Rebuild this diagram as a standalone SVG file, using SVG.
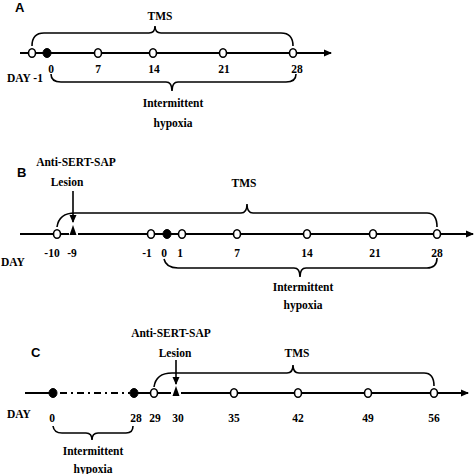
<svg xmlns="http://www.w3.org/2000/svg" width="474" height="474" viewBox="0 0 474 474">
<defs>
<style>
.ax{stroke:#000;stroke-width:2;fill:none}
.br{stroke:#000;stroke-width:1.6;fill:none}
.o{fill:#fff;stroke:#000;stroke-width:1.6}
.f{fill:#000;stroke:#000;stroke-width:1}
.t{font-family:'Liberation Serif','DejaVu Serif',serif;font-weight:bold;font-size:11.5px;fill:#000;text-anchor:middle}
.ts{font-family:'Liberation Serif','DejaVu Serif',serif;font-weight:bold;font-size:11.5px;fill:#000}
.p{font-family:'Liberation Sans',Arial,sans-serif;font-weight:bold;font-size:13px;fill:#000}
</style>
<marker id="ah" markerWidth="8" markerHeight="8" refX="7" refY="4" orient="auto" markerUnits="userSpaceOnUse">
<path d="M0,0.5 L8,4 L0,7.5 Z" fill="#000"/>
</marker>
</defs>

<g id="panelA">
<text class="p" x="15" y="12">A</text>
<g id="connectorsA">
<line class="ax" x1="20" y1="53" x2="331" y2="53" marker-end="url(#ah)"/>
<path class="br" d="M32,46 Q32,33 44,33 H149 Q155,33 155,26 Q155,33 161,33 H281 Q293,33 293,46"/>
<path class="br" d="M51,74 Q51,82 61,82 H166 Q172,82 172,91 Q172,82 178,82 H286 Q296,82 296,74"/>
</g>
<g id="markersA">
<ellipse class="o" cx="32" cy="53" rx="3.5" ry="4.3"/>
<ellipse class="f" cx="47" cy="53" rx="4" ry="4.5"/>
<ellipse class="o" cx="98" cy="53" rx="3.5" ry="4.3"/>
<ellipse class="o" cx="153" cy="53" rx="3.5" ry="4.3"/>
<ellipse class="o" cx="223" cy="53" rx="3.5" ry="4.3"/>
<ellipse class="o" cx="293" cy="53" rx="3.5" ry="4.3"/>
</g>
<text class="t" x="160" y="20">TMS</text>
<text class="ts" x="7" y="82">DAY -1</text>
<text class="t" x="51" y="73">0</text>
<text class="t" x="98" y="73">7</text>
<text class="t" x="154" y="73">14</text>
<text class="t" x="224" y="73">21</text>
<text class="t" x="297" y="73">28</text>
<text class="t" x="173" y="107">Intermittent</text>
<text class="t" x="173" y="127">hypoxia</text>
</g>

<g id="panelB">
<text class="p" x="17" y="177">B</text>
<g id="connectorsB">
<line class="ax" x1="20" y1="234" x2="69" y2="234"/>
<line class="ax" x1="78" y1="234" x2="473" y2="234" marker-end="url(#ah)"/>
<line class="br" x1="73" y1="191" x2="73" y2="222" marker-end="url(#ah)"/>
<path class="br" d="M57,227 Q59,213 75,213 H241 Q247,213 247,204 Q247,213 253,213 H427 Q437,213 437,227"/>
<path class="br" d="M164,259 Q166,268 178,268 H294 Q300,268 300,277 Q300,268 306,268 H427 Q437,268 437,258"/>
</g>
<g id="markersB">
<ellipse class="o" cx="57" cy="234" rx="3.5" ry="4.3"/>
<polygon points="73,225 69.5,235 76.5,235" fill="#000"/>
<ellipse class="o" cx="151" cy="234" rx="3.5" ry="4.3"/>
<ellipse class="f" cx="167" cy="234" rx="4" ry="4.5"/>
<ellipse class="o" cx="182" cy="234" rx="3.5" ry="4.3"/>
<ellipse class="o" cx="237" cy="234" rx="3.5" ry="4.3"/>
<ellipse class="o" cx="307" cy="234" rx="3.5" ry="4.3"/>
<ellipse class="o" cx="373" cy="234" rx="3.5" ry="4.3"/>
<ellipse class="o" cx="437" cy="234" rx="3.5" ry="4.3"/>
</g>
<text class="t" x="76" y="166">Anti-SERT-SAP</text>
<text class="t" x="67" y="186">Lesion</text>
<text class="t" x="244" y="187">TMS</text>
<text class="ts" x="1" y="266">DAY</text>
<text class="t" x="52" y="257">-10</text>
<text class="t" x="72" y="257">-9</text>
<text class="t" x="147" y="257">-1</text>
<text class="t" x="164" y="257">0</text>
<text class="t" x="180" y="257">1</text>
<text class="t" x="237" y="257">7</text>
<text class="t" x="307" y="257">14</text>
<text class="t" x="375" y="257">21</text>
<text class="t" x="437" y="257">28</text>
<text class="t" x="303" y="291">Intermittent</text>
<text class="t" x="303" y="309">hypoxia</text>
</g>

<g id="panelC">
<text class="p" x="31" y="357">C</text>
<g id="connectorsC">
<line class="ax" x1="25" y1="393" x2="53" y2="393"/>
<line class="ax" x1="60" y1="393" x2="130" y2="393" stroke-dasharray="7 4 2 4"/>
<line class="ax" x1="134" y1="393" x2="171" y2="393"/>
<line class="ax" x1="181" y1="393" x2="468" y2="393" marker-end="url(#ah)"/>
<line class="br" x1="176" y1="360" x2="176" y2="384" marker-end="url(#ah)"/>
<path class="br" d="M154,387 Q156,373 172,373 H287 Q293,373 293,365 Q293,373 299,373 H424 Q434,373 434,386"/>
<path class="br" d="M53,426 Q54,433 62,433 H86 Q92,433 92,440 Q92,433 98,433 H126 Q133,433 133,426"/>
</g>
<g id="markersC">
<ellipse class="f" cx="53" cy="393" rx="4" ry="4.5"/>
<ellipse class="f" cx="134" cy="393" rx="4" ry="4.5"/>
<ellipse class="o" cx="154" cy="393" rx="3.5" ry="4.3"/>
<polygon points="176,386 172.5,396 179.5,396" fill="#000"/>
<ellipse class="o" cx="234" cy="393" rx="3.5" ry="4.3"/>
<ellipse class="o" cx="298" cy="393" rx="3.5" ry="4.3"/>
<ellipse class="o" cx="368" cy="393" rx="3.5" ry="4.3"/>
<ellipse class="o" cx="434" cy="393" rx="3.5" ry="4.3"/>
</g>
<text class="t" x="171" y="337">Anti-SERT-SAP</text>
<text class="t" x="175" y="357">Lesion</text>
<text class="t" x="297" y="357">TMS</text>
<text class="ts" x="7" y="418">DAY</text>
<text class="t" x="52" y="422">0</text>
<text class="t" x="136" y="422">28</text>
<text class="t" x="155" y="422">29</text>
<text class="t" x="178" y="422">30</text>
<text class="t" x="234" y="422">35</text>
<text class="t" x="298" y="422">42</text>
<text class="t" x="368" y="422">49</text>
<text class="t" x="434" y="422">56</text>
<text class="t" x="93" y="455">Intermittent</text>
<text class="t" x="93" y="473">hypoxia</text>
</g>
</svg>
